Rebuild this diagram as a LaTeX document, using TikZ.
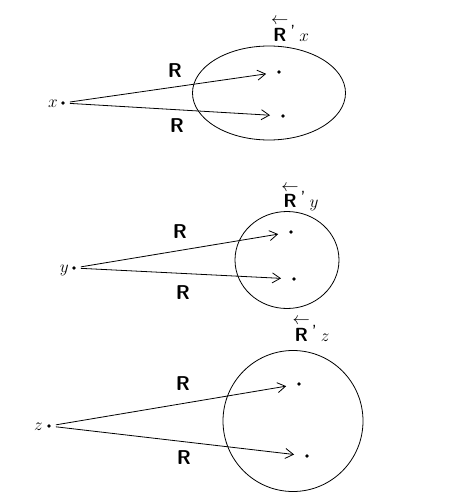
\documentclass[tikz,border=0pt]{standalone}
\usepackage{amsmath}
\usetikzlibrary{arrows.meta,shapes.geometric}
\newcommand{\rconv}{$\overset{\textstyle\leftarrow}{\textsf{\textbf{R}}}$\kern2pt\raisebox{3pt}{\textsf{'}}\kern4pt}
\begin{document}
\begin{tikzpicture}[x=1pt,y=-1pt,
  pt/.style={circle,fill=black,inner sep=0pt,minimum size=3.6pt},
  lab/.style={inner sep=0pt,font=\fontsize{19}{22}\selectfont},
  rlab/.style={inner sep=0pt,font=\fontsize{20}{24}\selectfont\sffamily\bfseries},
  set/.style={draw,line width=0.8pt,ellipse,inner sep=0pt},
  rel/.style={line width=0.8pt,-{Straight Barb[length=8pt,width=10pt,line width=0.8pt]},shorten <=5pt,shorten >=11pt}]
\useasboundingbox (0,0) rectangle (471,500);
% top group
\node[set,minimum width=153pt,minimum height=94pt] (Ex) at (269,93) {};
\node[pt] (x) at (63,103) {};
\node[lab,anchor=east] (xl) at (58,104) {$x$};
\node[pt] (x1) at (279,72) {};
\node[pt] (x2) at (283,116) {};
\draw[rel] (x) -- (x1);
\draw[rel] (x) -- (x2);
\node[rlab] (rx1) at (175,71) {R};
\node[rlab] (rx2) at (177,126) {R};
\node[lab] (tx) at (290,29) {\rconv$x$};
% middle group
\node[set,minimum width=104pt,minimum height=97pt] (Ey) at (287,260) {};
\node[pt] (y) at (74,268) {};
\node[lab,anchor=east] (yl) at (69,270) {$y$};
\node[pt] (y1) at (291,232) {};
\node[pt] (y2) at (294,279) {};
\draw[rel] (y) -- (y1);
\draw[rel] (y) -- (y2);
\node[rlab] (ry1) at (180,232) {R};
\node[rlab] (ry2) at (183,293) {R};
\node[lab] (ty) at (300,197) {\rconv$y$};
% bottom group
\node[set,minimum width=140pt,minimum height=141pt] (Ez) at (293,421) {};
\node[pt] (z) at (49,426) {};
\node[lab,anchor=east] (zl) at (43,427) {$z$};
\node[pt] (z1) at (299,384) {};
\node[pt] (z2) at (307,456) {};
\draw[rel] (z) -- (z1);
\draw[rel] (z) -- (z2);
\node[rlab] (rz1) at (183,384) {R};
\node[rlab] (rz2) at (184,458) {R};
\node[lab] (tz) at (311,329) {\rconv$z$};
\end{tikzpicture}
\end{document}
